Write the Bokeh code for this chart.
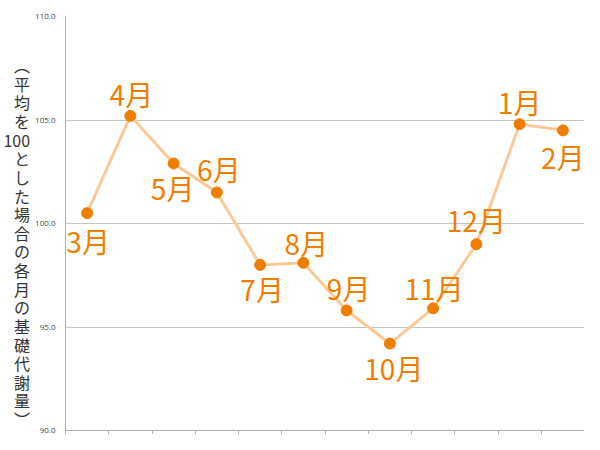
from bokeh.plotting import figure
from bokeh.models import ColumnDataSource, FixedTicker, NumeralTickFormatter, Range1d
from bokeh.core.properties import value
from bokeh.embed import file_html
from bokeh.resources import INLINE

# ---- data ----
months = ["3月", "4月", "5月", "6月", "7月", "8月", "9月", "10月", "11月", "12月", "1月", "2月"]
values = [100.5, 105.2, 102.9, 101.5, 98.0, 98.1, 95.8, 94.2, 95.9, 99.0, 104.8, 104.5]
y_ticks = [90, 95, 100, 105, 110]
y_label_chars = ["︵", "平", "均", "を", "100", "と", "し", "た", "場", "合", "の",
                 "各", "月", "の", "基", "礎", "代", "謝", "量", "︶"]

# ---- layout (label placement, screen px) ----
label_dx = [1, 1, -1, 2, 2, 3, 2, 4, 1, 0, 0, 0]
label_dy = [28, -22, 25, -23, 24, -20, -22, 24, -20, -24, -22, 27]

W, H = 584, 434
LEFT, TOP, BOTTOM = 65, 16, 4
xs = list(range(len(months)))
x_ticks = [i - 0.5 for i in range(len(months) + 1)]

p = figure(width=W, height=H, output_backend="svg", toolbar_location=None,
           x_range=Range1d(-0.5, len(months) - 0.5), y_range=Range1d(90, 110),
           min_border_left=LEFT, min_border_right=0, min_border_top=TOP, min_border_bottom=BOTTOM)
p.outline_line_color = None
p.background_fill_color = "white"

# x axis: ticks at category boundaries, no labels
p.xaxis.ticker = FixedTicker(ticks=x_ticks)
p.xaxis.major_label_overrides = {t: "" for t in x_ticks}
p.xaxis.major_label_standoff = 0
p.xaxis.major_tick_out = 4
p.xaxis.major_tick_in = 0
p.xaxis.minor_tick_line_color = None
p.xaxis.axis_line_color = "#b0b0b0"
p.xaxis.major_tick_line_color = "#b0b0b0"

# y axis
p.yaxis.ticker = FixedTicker(ticks=y_ticks)
p.yaxis.formatter = NumeralTickFormatter(format="0.0")
p.yaxis.major_tick_out = 0
p.yaxis.major_tick_in = 0
p.yaxis.minor_tick_line_color = None
p.yaxis.axis_line_color = "#b0b0b0"
p.yaxis.major_label_text_font_size = "8px"
p.yaxis.major_label_text_font = "Open Sans"
p.yaxis.major_label_text_color = "#444444"
p.yaxis.major_label_standoff = 10

# vertical (tategaki) axis title: upright characters stacked top to bottom
p.yaxis.axis_label = "\n".join(["\u3000", "\u3000"] + y_label_chars)
p.yaxis.axis_label_orientation = "horizontal"
p.yaxis.axis_label_text_font = "Noto Sans CJK JP"
p.yaxis.axis_label_text_font_size = "16px"
p.yaxis.axis_label_text_font_style = "normal"
p.yaxis.axis_label_text_color = "#333333"
p.yaxis.axis_label_text_line_height = 0.776
p.yaxis.axis_label_text_align = "center"
p.yaxis.axis_label_standoff = 2

p.xgrid.grid_line_color = None
p.ygrid.ticker = FixedTicker(ticks=y_ticks)
p.ygrid.grid_line_color = "#c4c4c4"
p.ygrid.grid_line_width = 1

src = ColumnDataSource(dict(x=xs, y=values, label=months, dx=label_dx, dy=label_dy))

p.line("x", "y", source=src, line_color="#fcc996", line_width=3)
p.scatter("x", "y", source=src, size=11, fill_color="#ef7d00", line_color="#ef7d00")
p.text("x", "y", text="label", source=src, x_offset="dx", y_offset="dy",
       text_font=value("Noto Sans CJK JP"), text_font_size="28px",
       text_color="#ef7d00", text_align="center", text_baseline="middle")

open("out.html", "w").write(file_html(p, INLINE))
